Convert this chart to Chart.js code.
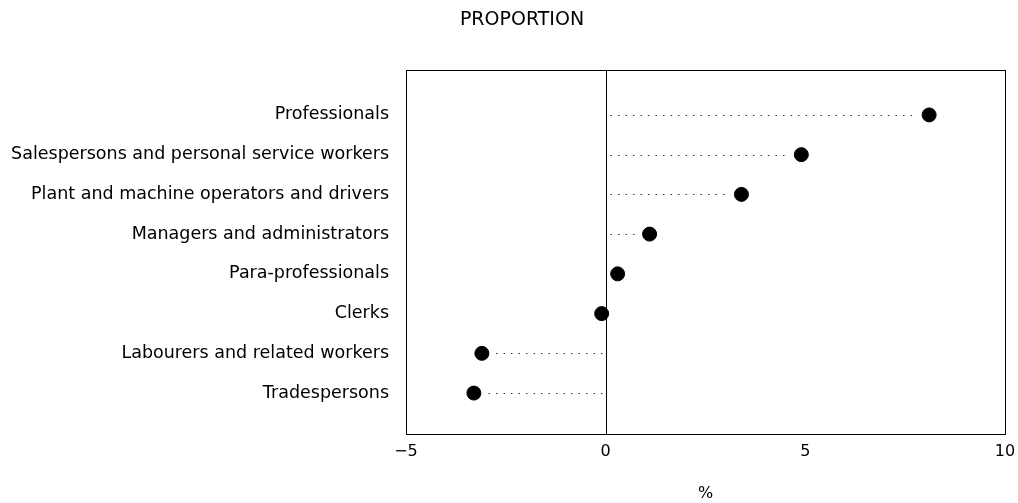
<!DOCTYPE html>
<html>
<head>
<meta charset="utf-8">
<script src="https://cdn.jsdelivr.net/npm/chart.js@4.4.1/dist/chart.umd.min.js"></script>
<style>
  html, body { margin: 0; padding: 0; background: #fff; }
  #wrap { width: 1018px; height: 503px; }
</style>
</head>
<body>
<div id="wrap"><canvas id="dotChart"></canvas></div>
<script>
// Occupation groups, top to bottom
const categories = [
    'Professionals',
    'Salespersons and personal service workers',
    'Plant and machine operators and drivers',
    'Managers and administrators',
    'Para-professionals',
    'Clerks',
    'Labourers and related workers',
    'Tradespersons'
];
// Change in proportion (%)
const proportionValues = [8.1, 4.9, 3.4, 1.1, 0.3, -0.1, -3.1, -3.3];
const xTicks = [-5, 0, 5, 10];
const chartTitle = 'PROPORTION';

const FONT = "'DejaVu Sans', sans-serif";

// frame, zero line, dotted leaders and the title (sits off-centre in the original)
const framePlugin = {
    id: 'frame',
    beforeDatasetsDraw(chart) {
        const ctx = chart.ctx;
        const a = chart.chartArea;
        const xs = chart.scales.x, ys = chart.scales.y;
        ctx.save();
        ctx.fillStyle = '#000';
        ctx.font = '19px ' + FONT;
        ctx.textAlign = 'center';
        ctx.textBaseline = 'middle';
        ctx.fillText(chartTitle, 522, 20);

        ctx.strokeStyle = '#000';
        ctx.lineWidth = 1;
        ctx.strokeRect(Math.round(a.left) + 0.5, Math.round(a.top) + 0.5,
            Math.round(a.right - a.left), Math.round(a.bottom - a.top));

        const x0 = Math.round(xs.getPixelForValue(0)) + 0.5;
        ctx.beginPath();
        ctx.moveTo(x0, a.top);
        ctx.lineTo(x0, a.bottom);
        ctx.stroke();

        ctx.setLineDash([1.5, 6]);
        ctx.strokeStyle = '#333';
        proportionValues.forEach(function (v, i) {
            const y = Math.round(ys.getPixelForValue(i + 1)) + 0.5;
            const xp = xs.getPixelForValue(v);
            const dir = v >= 0 ? 1 : -1;
            const end = xp - dir * 12;
            if ((end - x0) * dir > 4) {
                ctx.beginPath();
                ctx.moveTo(x0 + dir * 4, y);
                ctx.lineTo(end, y);
                ctx.stroke();
            }
        });
        ctx.restore();
    }
};

new Chart(document.getElementById('dotChart'), {
    type: 'scatter',
    data: {
        datasets: [{
            data: proportionValues.map(function (v, i) { return { x: v, y: i + 1 }; }),
            backgroundColor: '#000',
            borderColor: '#000',
            pointRadius: 7,
            pointHoverRadius: 7
        }]
    },
    options: {
        responsive: true,
        maintainAspectRatio: false,
        animation: false,
        layout: { padding: { left: 0, right: 13, top: 70, bottom: 0 } },
        plugins: {
            legend: { display: false },
            tooltip: { enabled: false },
            title: { display: false }
        },
        scales: {
            x: {
                type: 'linear',
                min: -5,
                max: 10,
                afterBuildTicks: function (scale) {
                    scale.ticks = xTicks.map(function (v) { return { value: v }; });
                },
                afterFit: function (scale) {
                    scale.height = 69;
                    scale.paddingLeft = 0;
                    scale.paddingRight = 0;
                },
                grid: { display: false, drawTicks: false },
                border: { display: false },
                ticks: {
                    color: '#000',
                    padding: 8,
                    maxRotation: 0,
                    font: { family: FONT, size: 16 },
                    callback: function (v) { return v < 0 ? '\u2212' + Math.abs(v) : String(v); }
                },
                title: {
                    display: true,
                    text: '%',
                    color: '#000',
                    font: { family: FONT, size: 16 },
                    padding: { top: 20, bottom: 0 }
                }
            },
            y: {
                type: 'linear',
                reverse: true,
                min: -0.13,
                max: 9.03,
                afterBuildTicks: function (scale) {
                    scale.ticks = categories.map(function (c, i) { return { value: i + 1 }; });
                },
                afterFit: function (scale) {
                    scale.width = 406;
                    scale.paddingTop = 0;
                    scale.paddingBottom = 0;
                },
                grid: { display: false, drawTicks: false },
                border: { display: false },
                ticks: {
                    color: '#000',
                    padding: 17,
                    autoSkip: false,
                    font: { family: FONT, size: 17.5 },
                    callback: function (v) { return categories[v - 1] || ''; }
                }
            }
        }
    },
    plugins: [framePlugin]
});
</script>
</body>
</html>
